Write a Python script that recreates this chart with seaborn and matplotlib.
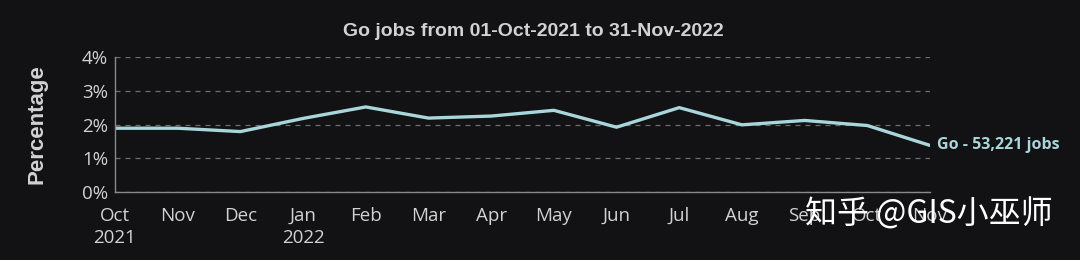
import matplotlib
matplotlib.use("Agg")
import matplotlib.pyplot as plt
import seaborn as sns
import pandas as pd
from matplotlib.ticker import FuncFormatter

months = ["Oct", "Nov", "Dec", "Jan", "Feb", "Mar", "Apr", "May", "Jun",
          "Jul", "Aug", "Sep", "Oct ", "Nov "]
tick_labels = ["Oct\n2021", "Nov", "Dec", "Jan\n2022", "Feb", "Mar", "Apr",
               "May", "Jun", "Jul", "Aug", "Sep", "Oct", "Nov"]
percent = [1.89, 1.89, 1.79, 2.18, 2.52, 2.19, 2.25, 2.42, 1.92, 2.50,
           1.99, 2.12, 1.97, 1.38]
yticks = [0, 1, 2, 3, 4]
title = "Go jobs from 01-Oct-2021 to 31-Nov-2022"
end_label = "Go - 53,221 jobs"
watermark = "知乎 @GIS小巫师"

BG = "#121114"
TXT = "#d2d2d2"
LINE = "#a9d6da"

sns.set_theme(style="dark")
plt.rcParams["font.family"] = ["Open Sans", "DejaVu Sans"]

df = pd.DataFrame({"month": months, "pct": percent})

fig = plt.figure(figsize=(10.8, 2.6), dpi=100, facecolor=BG)
ax = fig.add_axes([115 / 1080, 1 - 192 / 260, (930 - 115) / 1080, (192 - 57) / 260])
ax.set_facecolor(BG)

sns.lineplot(data=df, x="month", y="pct", ax=ax, color=LINE, linewidth=2.4, sort=False)

ax.set_xlim(0, len(months) - 1)
ax.set_ylim(0, 4)
ax.set_yticks(yticks)
ax.yaxis.set_major_formatter(FuncFormatter(lambda v, p: f"{v:.0f}%"))
ax.set_xticks(range(len(months)))
ax.set_xticklabels(tick_labels)

ax.grid(axis="y", color="#6e6e6e", linestyle=(0, (4, 4)), linewidth=0.9)
ax.grid(axis="x", visible=False)
for s in ["top", "right"]:
    ax.spines[s].set_visible(False)
for s in ["left", "bottom"]:
    ax.spines[s].set_visible(True)
    ax.spines[s].set_color("#8a8a8a")
    ax.spines[s].set_linewidth(1.0)

ax.tick_params(axis="x", colors=TXT, labelsize=13.5, length=5, width=1,
               color="#8a8a8a", pad=6)
ax.tick_params(axis="y", colors=TXT, labelsize=13.5, length=4, width=1,
               color="#8a8a8a", pad=1)
for lbl in ax.get_xticklabels() + ax.get_yticklabels():
    lbl.set_color(TXT)
    lbl.set_linespacing(1.25)

ax.set_xlabel("")
ax.set_ylabel("Percentage", fontsize=16, fontweight="bold", color=TXT,
              family=["Liberation Sans", "DejaVu Sans"], labelpad=25)

fig.text(533 / 1080, 1 - 32 / 260, title, ha="center", va="center", fontsize=14,
         fontweight="bold", color=TXT, family=["Liberation Sans", "DejaVu Sans"])

ax.annotate(end_label, xy=(len(months) - 1, percent[-1]), xytext=(5, 0),
            textcoords="offset points", ha="left", va="center", fontsize=11.5,
            fontweight="bold", color=LINE, annotation_clip=False)

fig.text(805 / 1080, 1 - 214 / 260, watermark, ha="left", va="center",
         fontsize=23, color="white",
         family=["Noto Sans CJK SC", "DejaVu Sans"])

fig.savefig("out.png", dpi=100, facecolor=BG)
